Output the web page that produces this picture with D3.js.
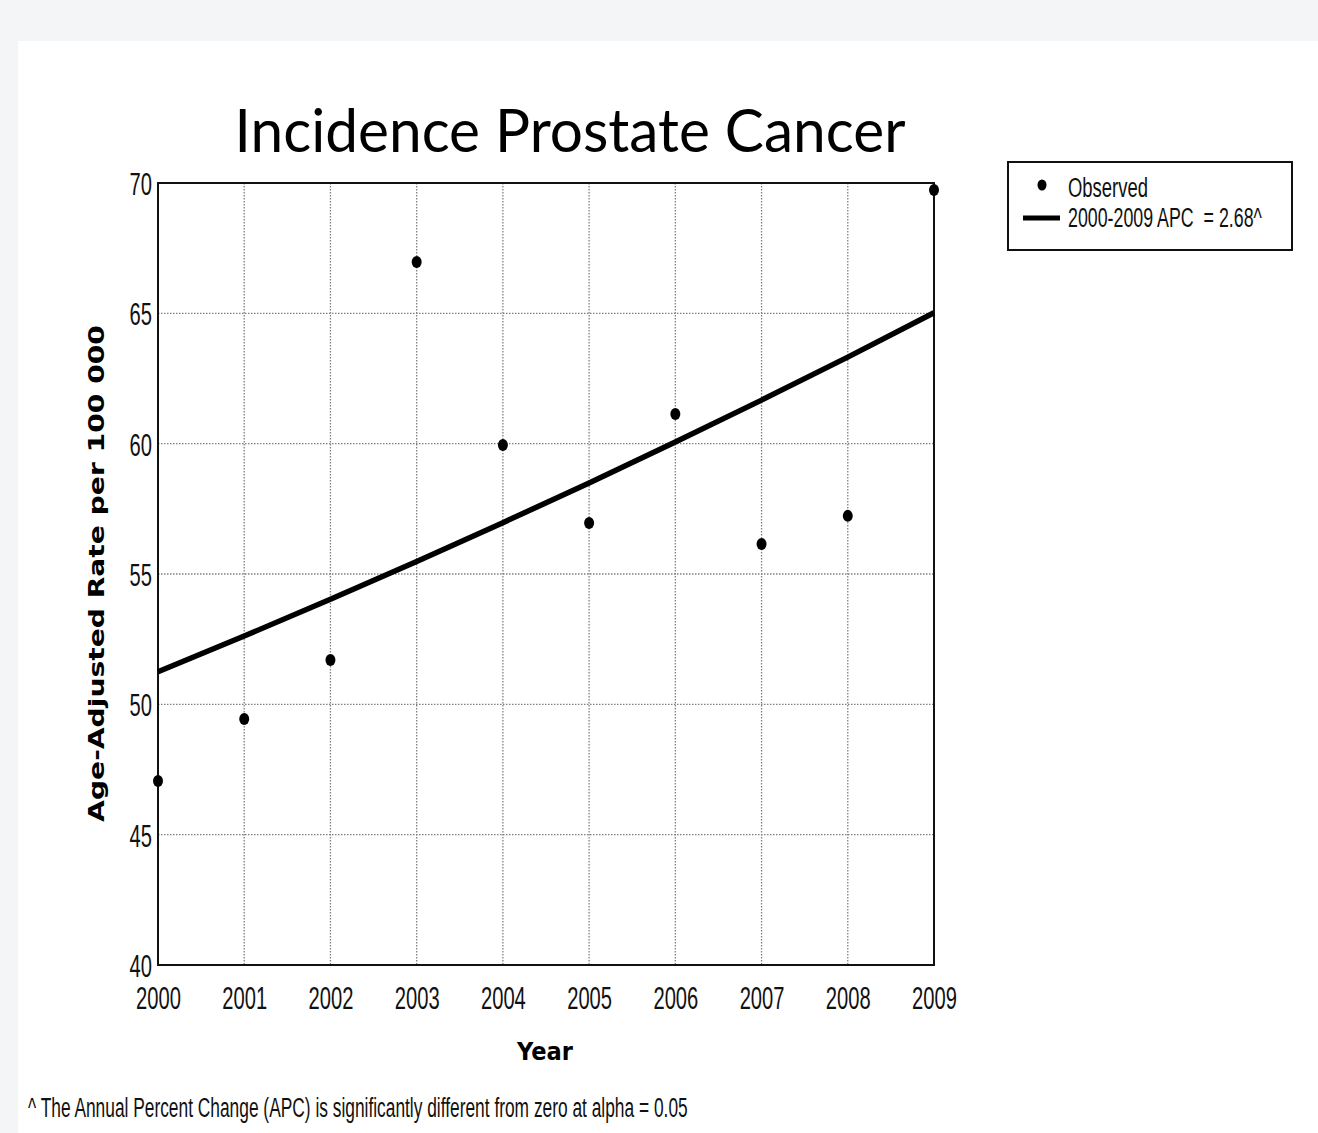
<!DOCTYPE html>
<html>
<head>
<meta charset="utf-8">
<script src="https://cdn.jsdelivr.net/npm/d3@7"></script>
<style>
  html, body { margin: 0; padding: 0; background: #f4f5f7; }
  svg { display: block; }
  text { white-space: pre; }
</style>
</head>
<body>
<svg id="chart" width="1318" height="1133"></svg>
<script>
// ---- data ----
const years = [2000, 2001, 2002, 2003, 2004, 2005, 2006, 2007, 2008, 2009];
const observed = [47.06, 49.44, 51.70, 66.97, 59.95, 56.96, 61.14, 56.15, 57.23, 69.73];
const fitted = [51.25, 52.62, 54.03, 55.48, 56.97, 58.49, 60.06, 61.67, 63.32, 65.02];
const yTicks = [40, 45, 50, 55, 60, 65, 70];
const titleText = "Incidence Prostate Cancer";
const yTitle = "Age-Adjusted Rate per 100 000";
const xTitle = "Year";
const legendLabels = ["Observed", "2000-2009 APC  = 2.68^"];
const footnote = "^ The Annual Percent Change (APC) is significantly different from zero at alpha = 0.05";

// ---- layout ----
const svg = d3.select("#chart");
const plot = { left: 158, right: 934, top: 183, bottom: 965 };
const x = d3.scaleLinear().domain([2000, 2009]).range([plot.left, plot.right]);
const y = d3.scaleLinear().domain([40, 70]).range([plot.bottom, plot.top]);

// fit text horizontally to a target width
function fitText(sel, tx, ty, targetW, rotate) {
  const w = sel.node().getComputedTextLength();
  const s = targetW / w;
  sel.attr("transform", `translate(${tx},${ty})` + (rotate ? ` rotate(${rotate})` : "") + ` scale(${s},1)`);
}

// white panel
svg.append("rect").attr("x", 18).attr("y", 41).attr("width", 1300).attr("height", 1092).attr("fill", "#ffffff");

// title
const t = svg.append("text").text(titleText)
  .attr("font-family", "Lato, 'Open Sans', sans-serif").attr("font-size", 61)
  .attr("text-anchor", "middle").attr("fill", "#000");
fitText(t, 570, 152, 671);

// gridlines
const grid = svg.append("g").attr("stroke", "#808080").attr("stroke-width", 1.3).attr("stroke-dasharray", "1.5,1.5");
grid.selectAll("line.v").data(years.slice(1, -1)).join("line")
  .attr("x1", d => x(d)).attr("x2", d => x(d)).attr("y1", plot.top).attr("y2", plot.bottom);
grid.selectAll("line.h").data(yTicks.slice(1, -1)).join("line")
  .attr("x1", plot.left).attr("x2", plot.right).attr("y1", d => y(d)).attr("y2", d => y(d));

// axes (labels only)
const narrow = 0.63;
const yAxis = svg.append("g").attr("transform", `translate(${plot.left},0)`)
  .call(d3.axisLeft(y).tickValues(yTicks).tickSize(0).tickPadding(0).tickFormat(d3.format("d")));
yAxis.select(".domain").remove();
yAxis.selectAll("text")
  .attr("font-family", "'Liberation Sans', Arial, sans-serif").attr("font-size", 32)
  .attr("fill", "#111").attr("x", -6 / narrow).attr("dy", "0.36em")
  .attr("transform", `scale(${narrow},1)`);

const xAxis = svg.append("g").attr("transform", `translate(0,${plot.bottom})`)
  .call(d3.axisBottom(x).tickValues(years).tickSize(0).tickPadding(0).tickFormat(d3.format("d")));
xAxis.select(".domain").remove();
xAxis.selectAll("text")
  .attr("font-family", "'Liberation Sans', Arial, sans-serif").attr("font-size", 32)
  .attr("fill", "#111").attr("y", 44).attr("dy", 0)
  .attr("transform", `scale(${narrow},1)`);

// frame
svg.append("rect").attr("x", plot.left).attr("y", plot.top)
  .attr("width", plot.right - plot.left).attr("height", plot.bottom - plot.top)
  .attr("fill", "none").attr("stroke", "#111").attr("stroke-width", 2);

// fitted line
const line = d3.line().x((d, i) => x(years[i])).y(d => y(d));
svg.append("path").datum(fitted).attr("d", line)
  .attr("fill", "none").attr("stroke", "#000").attr("stroke-width", 5.5).attr("stroke-linejoin", "round");

// observed points
svg.append("g").selectAll("ellipse").data(observed).join("ellipse")
  .attr("cx", (d, i) => x(years[i])).attr("cy", d => y(d))
  .attr("rx", 5).attr("ry", 6).attr("fill", "#000");

// axis titles
const yt = svg.append("text").text(yTitle)
  .attr("font-family", "'DejaVu Sans', Verdana, sans-serif").attr("font-weight", "bold").attr("font-size", 21)
  .attr("text-anchor", "middle").attr("dy", "0.36em").attr("fill", "#000");
fitText(yt, 96, 573.5, 497, -90);

const xt = svg.append("text").text(xTitle)
  .attr("font-family", "'DejaVu Sans', Verdana, sans-serif").attr("font-weight", "bold").attr("font-size", 25)
  .attr("text-anchor", "middle").attr("fill", "#000");
fitText(xt, 545, 1060, 56);

// legend
const lg = svg.append("g");
lg.append("rect").attr("x", 1008).attr("y", 162).attr("width", 284).attr("height", 88)
  .attr("fill", "#fff").attr("stroke", "#111").attr("stroke-width", 2);
lg.append("ellipse").attr("cx", 1042).attr("cy", 185).attr("rx", 4.5).attr("ry", 5.5).attr("fill", "#000");
lg.append("line").attr("x1", 1023).attr("x2", 1060).attr("y1", 218).attr("y2", 218)
  .attr("stroke", "#000").attr("stroke-width", 5);
const l1 = lg.append("text").text(legendLabels[0])
  .attr("font-family", "'Liberation Sans', Arial, sans-serif").attr("font-size", 28).attr("fill", "#111");
fitText(l1, 1068, 197, 80);
const l2 = lg.append("text").text(legendLabels[1])
  .attr("font-family", "'Liberation Sans', Arial, sans-serif").attr("font-size", 28).attr("fill", "#111");
fitText(l2, 1068, 227, 194);

// footnote
const fn = svg.append("text").text(footnote)
  .attr("font-family", "'Liberation Sans', Arial, sans-serif").attr("font-size", 28).attr("fill", "#111");
fitText(fn, 28, 1117, 660);
</script>
</body>
</html>
